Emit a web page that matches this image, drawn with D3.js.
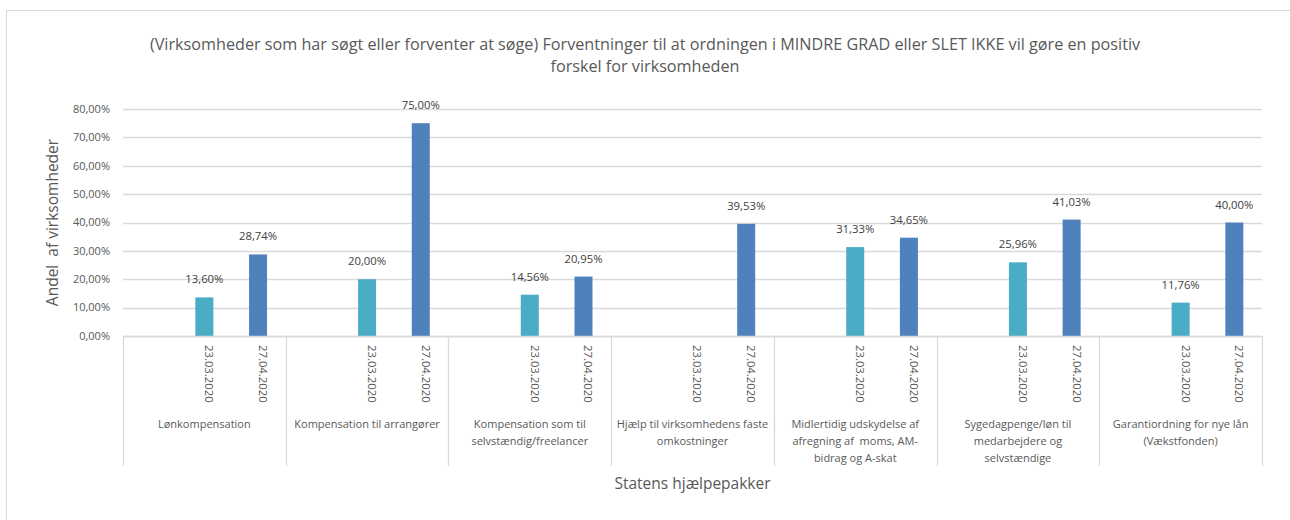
<!DOCTYPE html>
<html>
<head>
<meta charset="utf-8">
<script src="https://cdn.jsdelivr.net/npm/d3@7"></script>
<style>
  body { margin: 0; background: #fff; }
  text { font-family: "Open Sans", "Noto Sans", sans-serif; fill: #595959; white-space: pre; }
</style>
</head>
<body>
<div id="chart"></div>
<script>
// data
const packages = [
  ["Lønkompensation"],
  ["Kompensation til arrangører"],
  ["Kompensation som til", "selvstændig/freelancer"],
  ["Hjælp til virksomhedens faste", "omkostninger"],
  ["Midlertidig udskydelse af", "afregning af  moms, AM-", "bidrag og A-skat"],
  ["Sygedagpenge/løn til", "medarbejdere og", "selvstændige"],
  ["Garantiordning for nye lån", "(Vækstfonden)"]
];
const dates = ["23.03.2020", "27.04.2020"];
const values2303 = [13.60, 20.00, 14.56, null, 31.33, 25.96, 11.76];
const values2704 = [28.74, 75.00, 20.95, 39.53, 34.65, 41.03, 40.00];
const yTicks = [0, 10, 20, 30, 40, 50, 60, 70, 80];
const titleLines = [
  "(Virksomheder som har søgt eller forventer at søge) Forventninger til at ordningen i MINDRE GRAD eller SLET IKKE vil gøre en positiv",
  "forskel for virksomheden"
];
const colors = ["#4BACC6", "#4F81BD"];

const W = 1290, H = 520;
const margin = {top: 109, right: 28, bottom: 184, left: 123};
const width = W - margin.left - margin.right,
      height = H - margin.top - margin.bottom;

const rows = [];
packages.forEach((p, i) => {
  rows.push({pkg: i, date: dates[0], v: values2303[i], c: 0});
  rows.push({pkg: i, date: dates[1], v: values2704[i], c: 1});
});

const svg = d3.select("#chart").append("svg")
    .attr("width", W).attr("height", H);

// outer chart border
svg.append("rect")
    .attr("x", 6.5).attr("y", 10.5)
    .attr("width", W).attr("height", H)
    .attr("fill", "none").attr("stroke", "#d9d9d9");

svg.append("text")
    .attr("x", 645).attr("y", 50)
    .attr("text-anchor", "middle")
    .style("font-size", "16.2px")
    .selectAll("tspan").data(titleLines).enter().append("tspan")
      .attr("x", 645).attr("dy", (d, i) => i ? 22 : 0)
      .text(d => d);

const g = svg.append("g")
    .attr("transform", "translate(" + margin.left + "," + margin.top + ")");

const x0 = d3.scaleBand().domain(d3.range(packages.length)).range([0, width]);
const x1 = d3.scalePoint().domain(dates).range([x0.bandwidth() * 0.5, x0.bandwidth() * 0.83]);
const y = d3.scaleLinear().domain([0, 80]).range([height, 0]);
const barW = 18;

// gridlines
g.append("g")
  .selectAll("line").data(yTicks).enter().append("line")
    .attr("x1", 0).attr("x2", width)
    .attr("y1", d => Math.round(y(d)) + 0.5).attr("y2", d => Math.round(y(d)) + 0.5)
    .attr("stroke", "#d9d9d9").attr("stroke-width", 1.3);

// y axis labels
g.append("g")
  .selectAll("text").data(yTicks).enter().append("text")
    .attr("x", -13).attr("y", d => y(d)).attr("dy", "0.35em")
    .attr("text-anchor", "end")
    .style("font-size", "11px")
    .text(d => d3.format(".2f")(d).replace(".", ",") + "%");

// bars
g.append("g")
  .selectAll("rect").data(rows.filter(d => d.v != null)).enter().append("rect")
    .attr("x", d => x0(d.pkg) + x1(d.date) - barW / 2)
    .attr("y", d => y(d.v))
    .attr("width", barW)
    .attr("height", d => height - y(d.v))
    .attr("fill", d => colors[d.c]);

// value labels
g.append("g")
  .selectAll("text").data(rows.filter(d => d.v != null)).enter().append("text")
    .attr("x", d => x0(d.pkg) + x1(d.date))
    .attr("y", d => y(d.v) - 14)
    .attr("text-anchor", "middle")
    .style("font-size", "11.3px")
    .style("fill", "#404040")
    .text(d => d3.format(".2f")(d.v).replace(".", ",") + "%");

// category axis: separators
const axisBottom = 130;
g.append("line")
    .attr("x1", 0).attr("x2", width)
    .attr("y1", height + 0.5).attr("y2", height + 0.5)
    .attr("stroke", "#d9d9d9").attr("stroke-width", 1.3);
g.append("g")
  .selectAll("line").data(d3.range(packages.length + 1)).enter().append("line")
    .attr("x1", d => Math.round(d === packages.length ? width : x0(d)) + 0.5)
    .attr("x2", d => Math.round(d === packages.length ? width : x0(d)) + 0.5)
    .attr("y1", height).attr("y2", height + axisBottom)
    .attr("stroke", "#d9d9d9").attr("stroke-width", 1.3);

// date labels (rotated)
g.append("g")
  .selectAll("text").data(rows).enter().append("text")
    .attr("transform", d => "translate(" + (x0(d.pkg) + x1(d.date) - 3) + "," + (height + 9) + ") rotate(90)")
    .attr("dy", "-0.35em")
    .style("font-size", "11.3px")
    .text(d => d.date);

// package labels
const pk = g.append("g")
  .selectAll("text").data(packages).enter().append("text")
    .attr("x", (d, i) => x0(i) + x0.bandwidth() / 2)
    .attr("y", height + 92)
    .attr("text-anchor", "middle")
    .style("font-size", "11px");
pk.selectAll("tspan").data(d => d).enter().append("tspan")
    .attr("x", function() { return this.parentNode.getAttribute("x"); })
    .attr("dy", (d, i) => i ? 17 : 0)
    .text(d => d);

// axis titles
svg.append("text")
    .attr("x", margin.left + width / 2).attr("y", 489)
    .attr("text-anchor", "middle")
    .style("font-size", "15.5px")
    .text("Statens hjælpepakker");

svg.append("text")
    .attr("transform", "translate(58," + (margin.top + height / 2) + ") rotate(-90)")
    .attr("text-anchor", "middle")
    .style("font-size", "15.5px")
    .text("Andel  af virksomheder");
</script>
</body>
</html>
